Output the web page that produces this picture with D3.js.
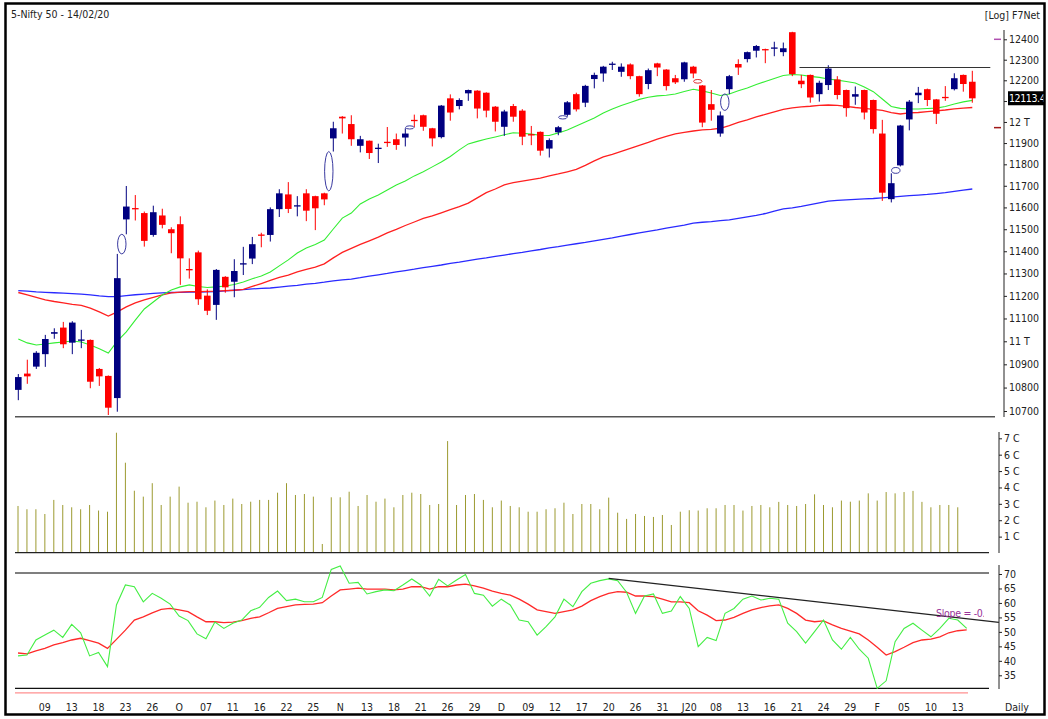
<!DOCTYPE html>
<html>
<head>
<meta charset="utf-8">
<script src="https://cdn.jsdelivr.net/npm/d3@7"></script>
<style>
  body { margin: 0; background: #fff; }
  text { font-family: 'Liberation Sans Narrow', 'DejaVu Sans Condensed', sans-serif; font-size: 10.5px; fill: #222; }
</style>
</head>
<body>
<script>
// Daily candles, 04/09/19 .. 14/02/20.
const opens  = [10790,10860,10890,10944,11033,11060,10994,11004,11006,10880,10850,10755,11545,11597,11574,11474,11563,11500,11523,11320,11395,11201,11160,11285,11263,11340,11367,11476,11474,11592,11660,11606,11665,11652,11665,11922,12025,11990,11887,11911,11874,11906,11918,11926,12010,12032,11970,11928,12113,12076,12137,12150,12140,12073,11977,12076,12054,11942,11953,11874,11951,12034,12133,12092,12206,12233,12277,12241,12277,12220,12182,12282,12252,12210,12205,12266,12175,12085,11945,12157,12279,12303,12344,12352,12356,12337,12435,12198,12226,12133,12177,12204,12153,12121,12153,12105,11945,11638,11795,12012,12128,12157,12108,12120,12157,12226,12193];
const highs  = [10858,10920,10957,11028,11057,11085,11088,11050,11008,10884,10852,11388,11699,11657,11581,11608,11594,11509,11559,11368,11403,11229,11320,11288,11364,11420,11465,11484,11600,11684,11717,11652,11684,11654,11668,12001,12028,12032,11934,11912,11897,11976,11945,11970,12035,12035,11972,12081,12132,12113,12155,12152,12142,12076,12058,12086,12061,11981,11955,11922,11981,12100,12140,12178,12237,12270,12290,12282,12282,12222,12257,12285,12254,12226,12290,12270,12177,12153,12050,12226,12302,12340,12372,12354,12388,12384,12437,12226,12228,12198,12273,12220,12155,12170,12155,12107,12010,11758,11986,12105,12168,12160,12110,12172,12234,12228,12246];
const lows   = [10746,10816,10880,10889,11011,10970,10944,10970,10797,10807,10683,10697,11477,11540,11421,11466,11504,11391,11249,11277,11160,11115,11094,11214,11194,11293,11342,11418,11444,11556,11574,11559,11537,11496,11610,11860,11945,11887,11856,11825,11806,11882,11868,11884,11975,11958,11884,11922,12006,12060,12101,12017,12022,11955,11934,12001,11890,11890,11841,11832,11937,12025,12050,12071,12161,12193,12250,12217,12205,12121,12157,12220,12151,12182,12193,12210,11975,12006,11930,12133,12226,12287,12311,12283,12317,12317,12220,12162,12092,12097,12153,12108,12025,12082,12012,11945,11630,11623,11790,11960,12090,12076,11990,12101,12151,12145,12092];
const closes = [10845,10848,10950,11010,11040,10987,11082,11008,10825,10848,10714,11279,11604,11592,11447,11578,11520,11482,11368,11314,11185,11134,11316,11238,11311,11346,11432,11472,11592,11665,11593,11610,11585,11596,11637,11970,12017,11918,11918,11853,11878,11902,11891,11945,12005,11977,11922,12078,12045,12105,12153,12064,12054,12001,12050,12025,11930,11938,11864,11914,11975,12094,12060,12173,12226,12266,12281,12266,12220,12133,12249,12262,12172,12190,12287,12233,11997,12058,12031,12220,12262,12337,12367,12347,12360,12356,12230,12181,12117,12188,12257,12129,12066,12133,12045,11966,11668,11712,11983,12097,12140,12105,12039,12116,12210,12182,12113];

// Moving averages drawn on the price panel.
const maShort = [11010,10993,10984,10988,10993,10997,11001,10997,10984,10967,10949,11001,11041,11093,11142,11173,11204,11226,11240,11249,11242,11237,11240,11244,11251,11262,11276,11289,11307,11334,11361,11392,11415,11431,11451,11501,11551,11574,11616,11639,11657,11680,11704,11722,11746,11765,11788,11811,11837,11868,11896,11908,11919,11929,11939,11949,11946,11942,11937,11936,11948,11962,11981,12000,12019,12043,12062,12079,12093,12108,12118,12125,12128,12134,12146,12157,12149,12139,12127,12134,12149,12163,12180,12194,12209,12223,12228,12226,12219,12214,12206,12201,12194,12187,12168,12145,12110,12074,12065,12062,12062,12064,12066,12074,12086,12096,12103];
const maMid   = [11215,11204,11193,11182,11175,11169,11162,11158,11146,11129,11111,11129,11151,11169,11182,11193,11204,11213,11217,11219,11219,11220,11221,11223,11225,11229,11242,11255,11269,11282,11293,11307,11318,11329,11343,11370,11395,11413,11431,11447,11464,11483,11499,11517,11533,11550,11561,11575,11590,11604,11620,11644,11668,11685,11704,11715,11722,11729,11736,11746,11755,11765,11776,11795,11816,11835,11847,11861,11875,11889,11903,11919,11931,11943,11950,11957,11962,11965,11970,11983,11998,12010,12024,12036,12048,12060,12067,12072,12075,12079,12081,12079,12074,12069,12065,12060,12055,12045,12038,12043,12045,12049,12053,12057,12062,12066,12069];
const maLong  = [11223,11221,11218,11216,11214,11212,11210,11208,11204,11200,11197,11197,11201,11205,11208,11211,11213,11215,11216,11217,11217,11218,11219,11222,11225,11228,11231,11233,11235,11239,11243,11247,11252,11256,11261,11267,11271,11275,11281,11288,11294,11300,11307,11313,11319,11326,11332,11338,11345,11351,11358,11364,11370,11377,11383,11389,11395,11402,11408,11415,11421,11428,11434,11440,11447,11454,11461,11469,11476,11483,11490,11497,11505,11512,11519,11528,11532,11535,11539,11543,11550,11557,11563,11572,11583,11593,11598,11605,11613,11621,11629,11632,11635,11637,11639,11641,11644,11647,11651,11654,11657,11660,11664,11668,11674,11680,11685];

// Volume in crores (last session not yet in).
const volumes = [2.87,2.67,2.67,2.38,3.24,2.93,2.79,2.67,2.93,2.59,2.52,7.34,5.51,3.80,3.44,4.26,2.93,3.44,4.05,3.07,3.13,2.79,3.20,2.93,3.32,2.99,3.13,3.24,3.24,3.68,4.26,3.54,3.60,3.44,0.55,3.40,3.40,3.74,2.87,3.54,3.13,3.32,2.79,3.54,3.68,3.60,2.93,2.99,6.83,2.93,3.54,3.60,3.24,2.79,3.20,2.87,2.79,2.52,2.52,2.67,2.73,3.07,2.38,2.99,2.99,2.67,3.38,2.46,2.08,2.38,2.26,2.20,2.32,1.71,2.52,2.61,2.59,2.73,2.73,2.93,2.93,2.59,2.87,2.93,2.79,3.12,2.93,2.87,2.99,3.58,2.93,2.79,3.20,3.13,3.20,3.64,3.20,3.72,3.64,3.72,3.79,3.12,2.79,2.93,2.93,2.79];

// RSI and its average.
const rsi    = [41.7,42.0,47.2,48.9,50.6,48.1,52.6,49.7,41.7,42.9,38.0,59.3,66.2,65.6,60.4,63.3,61.6,59.6,55.5,53.9,49.3,47.6,53.4,51.2,53.0,54.1,57.3,58.5,61.9,64.1,60.8,61.3,60.4,60.4,61.9,71.6,72.8,66.8,67.1,63.1,63.9,64.5,64.2,66.2,68.3,66.2,62.4,68.2,65.9,67.9,69.8,63.3,62.7,58.9,61.3,59.3,54.1,53.5,48.9,51.8,55.2,61.3,58.7,63.9,66.8,67.7,68.3,67.7,63.7,56.4,62.4,63.1,56.4,57.2,62.2,58.1,44.9,48.1,47.0,56.4,58.1,61.3,62.4,61.0,61.6,61.3,53.0,50.1,46.1,50.1,54.1,47.2,44.0,48.1,44.0,40.9,30.5,33.1,46.6,51.2,53.0,50.6,48.3,51.2,54.7,54.1,51.2];
const rsiAvg = [42.7,42.4,43.4,44.3,45.5,46.3,47.2,47.8,47.0,46.1,44.3,47.4,50.6,54.1,55.2,56.6,57.8,58.1,57.6,57.0,55.2,53.5,53.5,53.2,53.4,53.9,54.7,55.2,56.6,58.1,58.7,59.3,59.5,59.6,60.1,62.4,64.5,64.8,65.1,64.8,64.8,64.8,64.5,64.8,65.6,65.6,64.8,65.6,65.6,66.2,66.5,65.9,65.1,64.1,63.3,62.7,61.3,59.6,57.6,57.0,56.4,57.0,57.6,58.9,60.8,62.2,63.3,63.9,63.7,62.4,62.4,62.2,61.3,60.4,60.4,60.1,57.3,55.8,53.9,54.1,55.0,56.4,57.6,58.4,59.0,59.3,58.1,56.4,54.1,53.5,53.8,52.4,51.2,50.3,49.3,47.2,44.7,42.0,43.2,44.7,46.3,47.2,47.5,48.3,49.7,50.4,50.7];

// Date labels, one every third session.
const xTickIdx = [3,6,9,12,15,18,21,24,27,30,33,36,39,42,45,48,51,54,57,60,63,66,69,72,75,78,81,84,87,90,93,96,99,102,105];
const xTickLabels = ['09','13','18','23','26','O','07','11','16','22','25','N','13','18','21','26','29','D','09','12','17','20','26','31','J20','08','13','16','21','24','29','F','05','10','13'];

// Axis ticks (12100 sits under the last-price box).
const priceTicks = [10700,10800,10900,11000,11100,11200,11300,11400,11500,11600,11700,11800,11900,12000,12100,12200,12300,12400];
const hiddenTick = 12100;
const volTicks = [1,2,3,4,5,6,7];
const rsiTicks = [35,40,45,50,55,60,65,70];

// Gap markers, resistance and trend lines.
const gaps = [
  {i: 11.5, hi: 11477, lo: 11388, up: true},
  {i: 34.5, hi: 11860, lo: 11676, up: true},
  {i: 43.5, hi: 11978, lo: 11970, up: true},
  {i: 60.5, hi: 12030, lo: 12014, up: true},
  {i: 75.5, hi: 12204, lo: 12186, up: false},
  {i: 78.5, hi: 12134, lo: 12055, up: true},
  {i: 97.5, hi: 11785, lo: 11758, up: true}
];
const resistance = {from: 86.8, to: 108, value: 12262};
const rsiTrend = {from: 66, to: 109.6, v1: 68.5, v2: 53.3};
const lastPrice = 12113.4;
const axisMarks = [{v: 12400, color: '#b050b0'}, {v: 11973, color: '#a01818'}];

// Svg.
const svg = d3.select('body').append('svg')
    .attr('width', 1048)
    .attr('height', 719);

// Scales.
const n = closes.length - 1;
const xP = d3.scaleLinear().domain([0, n]).range([18.3, 972.3]);
const xB = d3.scaleLinear().domain([0, n]).range([18, 966.7]);
const yP = d3.scaleLog().domain([10700, 12400]).range([411, 39.3]);
const yV = d3.scaleLinear().domain([0, 7]).range([553, 438.3]);
const yR = d3.scaleLinear().domain([35, 70]).range([675.3, 574]);

const defs = svg.append('defs');
defs.append('clipPath').attr('id', 'clipP')
  .append('rect').attr('x', 14).attr('y', 25).attr('width', 982).attr('height', 391);
defs.append('clipPath').attr('id', 'clipR')
  .append('rect').attr('x', 14).attr('y', 560).attr('width', 970).attr('height', 140);

svg.append('text').attr('x', 11).attr('y', 18).text('5-Nifty 50 - 14/02/20');
svg.append('text').attr('x', 1040).attr('y', 19).attr('text-anchor', 'end').text('[Log] F7Net');

// ---------- Price panel ----------
const gP = svg.append('g').attr('clip-path', 'url(#clipP)');

const maLine = arr => d3.line().x((_, i) => xP(i)).y(d => yP(d))(arr);
gP.append('path').attr('d', maLine(maLong)).attr('fill', 'none').attr('stroke', '#2a2aff').attr('stroke-width', 1.3);
gP.append('path').attr('d', maLine(maMid)).attr('fill', 'none').attr('stroke', '#ff2020').attr('stroke-width', 1.3);
gP.append('path').attr('d', maLine(maShort)).attr('fill', 'none').attr('stroke', '#33ee33').attr('stroke-width', 1.1);

const bars = closes.map((c, i) => ({i, o: opens[i], h: highs[i], l: lows[i], c}));
const col = d => d.c >= d.o ? '#000080' : '#ff0000';

gP.selectAll('.wick')
  .data(bars)
  .join('line')
    .attr('class', 'wick')
    .attr('x1', d => xP(d.i)).attr('x2', d => xP(d.i))
    .attr('y1', d => yP(d.h)).attr('y2', d => yP(d.l))
    .attr('stroke', col).attr('stroke-width', 1);

gP.selectAll('.body')
  .data(bars)
  .join('rect')
    .attr('class', 'body')
    .attr('x', d => xP(d.i) - 3.3)
    .attr('width', 6.6)
    .attr('y', d => yP(Math.max(d.o, d.c)))
    .attr('height', d => Math.max(1.3, Math.abs(yP(d.o) - yP(d.c))))
    .attr('fill', col);

// Gap markers.
gP.selectAll('.gap')
  .data(gaps)
  .join('ellipse')
    .attr('class', 'gap')
    .attr('cx', d => xP(d.i))
    .attr('cy', d => (yP(d.hi) + yP(d.lo)) / 2)
    .attr('rx', 4.2)
    .attr('ry', d => Math.max(1.6, (yP(d.lo) - yP(d.hi)) / 2))
    .attr('fill', 'none')
    .attr('stroke', d => d.up ? '#3a3aa0' : '#e03030')
    .attr('stroke-width', 1);

// Resistance line.
gP.append('line')
    .attr('x1', xP(resistance.from)).attr('x2', xP(resistance.to))
    .attr('y1', yP(resistance.value)).attr('y2', yP(resistance.value))
    .attr('stroke', '#333').attr('stroke-width', 1.2);

// Panel bottom.
svg.append('line').attr('x1', 15).attr('x2', 995).attr('y1', 416.7).attr('y2', 416.7)
    .attr('stroke', '#555').attr('stroke-width', 1.5);

// Price axis.
const fmtP = d => d === hiddenTick ? '' : (d % 1000 === 0 ? (d / 1000) + ' T' : d);
svg.append('line').attr('x1', 1004).attr('x2', 1004).attr('y1', 30).attr('y2', 417).attr('stroke', '#222');
const axP = svg.append('g')
    .attr('transform', 'translate(1004,0)')
    .call(d3.axisRight(yP).tickValues(priceTicks).tickFormat(fmtP).tickSize(3).tickSizeOuter(0));
axP.select('.domain').remove();
axP.selectAll('text').attr('x', 5).attr('font-family', null).attr('font-size', null);
axP.selectAll('line').attr('stroke', '#222');

svg.selectAll('.amark')
  .data(axisMarks)
  .join('line')
    .attr('class', 'amark')
    .attr('x1', 994).attr('x2', 1001)
    .attr('y1', d => yP(d.v)).attr('y2', d => yP(d.v))
    .attr('stroke', d => d.color).attr('stroke-width', 1.5);

// Last price box.
svg.append('rect').attr('x', 1008).attr('y', yP(lastPrice) - 7).attr('width', 36).attr('height', 14).attr('fill', '#000');
svg.append('text').attr('x', 1009).attr('y', yP(lastPrice) + 4)
    .attr('letter-spacing', -0.4).style('fill', '#fff').text(lastPrice);

// ---------- Volume panel ----------
svg.selectAll('.vol')
  .data(volumes)
  .join('line')
    .attr('class', 'vol')
    .attr('x1', (_, i) => xB(i)).attr('x2', (_, i) => xB(i))
    .attr('y1', yV(0)).attr('y2', d => yV(d))
    .attr('stroke', '#9c9a30').attr('stroke-width', 1);

svg.append('line').attr('x1', 15).attr('x2', 989).attr('y1', 552.7).attr('y2', 552.7)
    .attr('stroke', '#222').attr('stroke-width', 1.3);

svg.append('line').attr('x1', 999).attr('x2', 999).attr('y1', 432).attr('y2', 553).attr('stroke', '#222');
const axV = svg.append('g')
    .attr('transform', 'translate(999,0)')
    .call(d3.axisRight(yV).tickValues(volTicks).tickFormat(d => d + ' C').tickSize(3).tickSizeOuter(0));
axV.select('.domain').remove();
axV.selectAll('text').attr('x', 5).attr('font-family', null).attr('font-size', null);
axV.selectAll('line').attr('stroke', '#222');

// ---------- RSI panel ----------
svg.append('line').attr('x1', 15).attr('x2', 989).attr('y1', 573).attr('y2', 573).attr('stroke', '#555').attr('stroke-width', 1.3);
svg.append('line').attr('x1', 15).attr('x2', 989).attr('y1', 688.3).attr('y2', 688.3).attr('stroke', '#111').attr('stroke-width', 1.3);
svg.append('line').attr('x1', 15).attr('x2', 968).attr('y1', 692.8).attr('y2', 692.8).attr('stroke', '#ff9090').attr('stroke-width', 1.3);

const rLine = arr => d3.line().x((_, i) => xB(i)).y(d => yR(d))(arr);
svg.append('path').attr('d', rLine(rsiAvg)).attr('fill', 'none').attr('stroke', '#ff2a2a').attr('stroke-width', 1.3);
svg.append('path').attr('d', rLine(rsi)).attr('fill', 'none').attr('stroke', '#44ee44').attr('stroke-width', 1.1);

svg.append('line')
    .attr('x1', xB(rsiTrend.from)).attr('x2', xB(rsiTrend.to))
    .attr('y1', yR(rsiTrend.v1)).attr('y2', yR(rsiTrend.v2))
    .attr('stroke', '#222').attr('stroke-width', 1.3);

svg.append('g').attr('clip-path', 'url(#clipR)')
  .append('text').attr('x', 936).attr('y', 617).attr('letter-spacing', -0.3)
    .style('fill', '#993399').text('Slope = -0.3');

svg.append('line').attr('x1', 999).attr('x2', 999).attr('y1', 565).attr('y2', 689).attr('stroke', '#222');
const axR = svg.append('g')
    .attr('transform', 'translate(999,0)')
    .call(d3.axisRight(yR).tickValues(rsiTicks).tickSize(3).tickSizeOuter(0));
axR.select('.domain').remove();
axR.selectAll('text').attr('x', 5).attr('font-family', null).attr('font-size', null);
axR.selectAll('line').attr('stroke', '#222');

// Date labels.
svg.selectAll('.xl')
  .data(xTickIdx)
  .join('text')
    .attr('class', 'xl')
    .attr('x', d => xB(d))
    .attr('y', 711)
    .attr('text-anchor', 'middle')
    .text((_, k) => xTickLabels[k]);

svg.append('text').attr('x', 1005).attr('y', 711).text('Daily');

// Frame, drawn last so it covers the edge of the price box.
svg.append('rect')
    .attr('x', 5.5).attr('y', 3.5)
    .attr('width', 1039).attr('height', 711)
    .attr('fill', 'none').attr('stroke', '#000').attr('stroke-width', 2.5);
</script>
</body>
</html>
